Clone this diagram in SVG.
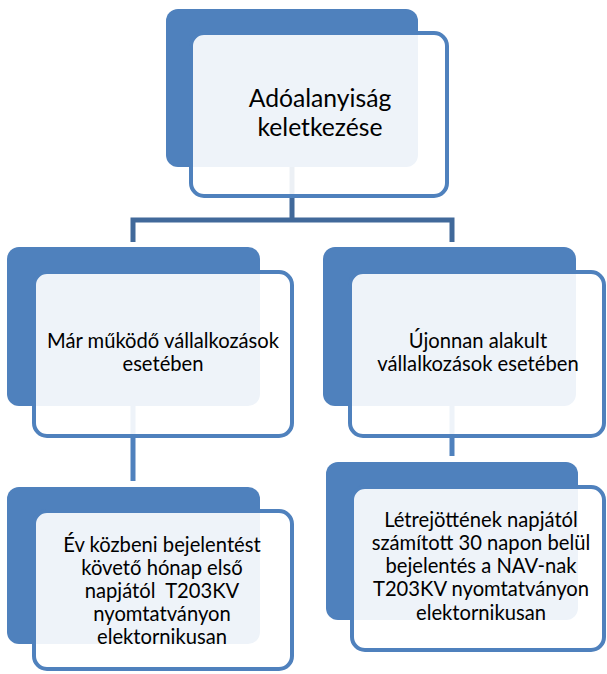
<svg xmlns="http://www.w3.org/2000/svg" width="607" height="674" viewBox="0 0 607 674">
<style>
.back{fill:#4F81BD}
.front{fill:#FFFFFF;fill-opacity:0.9;stroke:#4F81BD;stroke-width:4}
.conn{fill:none;stroke:#41699A;stroke-width:5}
.conn2{fill:none;stroke:#4F81BD;stroke-width:5}
text{font-family:Lato,"Liberation Sans",sans-serif;fill:#000;text-anchor:middle}
.t1{font-size:24.7px}
.t2{font-size:20.2px}
</style>
<rect width="607" height="674" fill="#FFFFFF"/>
<g id="connectors">
<path class="conn" d="M292,166 V220 M133,242 V220 H452 V242"/>
<path class="conn2" d="M133,406 V481"/>
<path class="conn2" d="M452,406 V456"/>
</g>
<g id="node-root">
<rect class="back" x="166" y="9" width="252" height="158" rx="12"/>
<rect class="front" x="191" y="33" width="256" height="163" rx="13"/>
<text class="t1" x="320" y="107">Adóalanyiság</text>
<text class="t1" x="320" y="136">keletkezése</text>
</g>
<g id="node-left">
<rect class="back" x="7" y="247" width="253" height="159" rx="12"/>
<rect class="front" x="34" y="272" width="258" height="164" rx="13"/>
<text class="t2" x="163" y="348">Már működő vállalkozások</text>
<text class="t2" x="163" y="371">esetében</text>
</g>
<g id="node-right">
<rect class="back" x="323" y="247" width="253" height="159" rx="12"/>
<rect class="front" x="350" y="272" width="254" height="164" rx="13"/>
<text class="t2" x="478" y="348">Újonnan alakult</text>
<text class="t2" x="478" y="371">vállalkozások esetében</text>
</g>
<g id="node-left-child">
<rect class="back" x="7" y="487" width="253" height="157" rx="12"/>
<rect class="front" x="34" y="511" width="258" height="158" rx="13"/>
<text class="t2" x="162" y="552">Év közbeni bejelentést</text>
<text class="t2" x="162" y="575">követő hónap első</text>
<text class="t2" x="162" y="598" xml:space="preserve">napjától  T203KV</text>
<text class="t2" x="162" y="621">nyomtatványon</text>
<text class="t2" x="162" y="644">elektornikusan</text>
</g>
<g id="node-right-child">
<rect class="back" x="326" y="462" width="252" height="158" rx="12"/>
<rect class="front" x="352" y="487" width="252" height="163" rx="13"/>
<text class="t2" x="481" y="527">Létrejöttének napjától</text>
<text class="t2" x="481" y="550">számított 30 napon belül</text>
<text class="t2" x="481" y="573">bejelentés a NAV-nak</text>
<text class="t2" x="481" y="596">T203KV nyomtatványon</text>
<text class="t2" x="481" y="620">elektornikusan</text>
</g>
</svg>
